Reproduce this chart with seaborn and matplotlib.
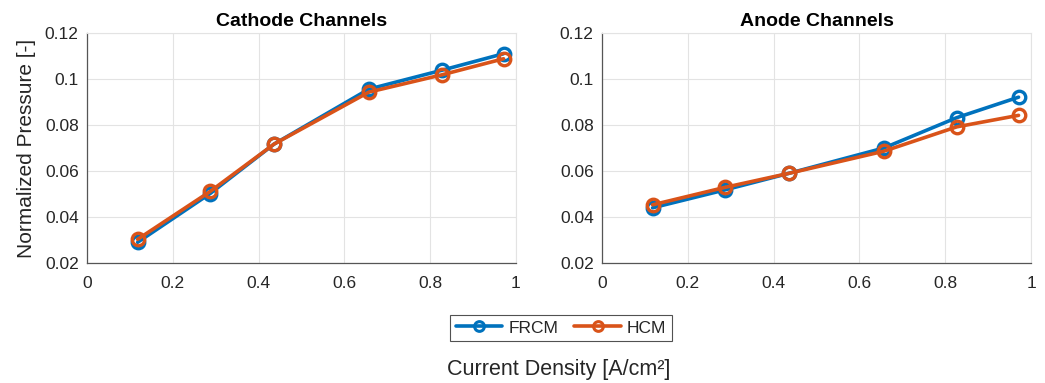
import numpy as np
import pandas as pd
import matplotlib
matplotlib.use("Agg")
import matplotlib.pyplot as plt
import seaborn as sns

current_density = [0.118, 0.287, 0.436, 0.657, 0.827, 0.971]
cathode_frcm = [0.0290, 0.0502, 0.0717, 0.0956, 0.1038, 0.1110]
cathode_hcm = [0.0303, 0.0511, 0.0717, 0.0943, 0.1018, 0.1088]
anode_frcm = [0.0440, 0.0518, 0.0590, 0.0700, 0.0832, 0.0921]
anode_hcm = [0.0453, 0.0529, 0.0590, 0.0686, 0.0792, 0.0842]
models = ["FRCM", "HCM"]
titles = ["Cathode Channels", "Anode Channels"]
yticks = [0.02, 0.04, 0.06, 0.08, 0.1, 0.12]
ytick_labels = ["0.02", "0.04", "0.06", "0.08", "0.1", "0.12"]
xticks = [0, 0.2, 0.4, 0.6, 0.8, 1]
xtick_labels = ["0", "0.2", "0.4", "0.6", "0.8", "1"]
colors = {"FRCM": "#0072BD", "HCM": "#D95319"}

def make_df(frcm, hcm):
    return pd.DataFrame({
        "x": current_density * 2,
        "y": list(frcm) + list(hcm),
        "model": [models[0]] * len(frcm) + [models[1]] * len(hcm),
    })

sns.set_theme(style="whitegrid")
plt.rcParams["font.family"] = ["Liberation Sans", "DejaVu Sans"]

fig = plt.figure(figsize=(10.45, 3.83), dpi=100)
ax1 = fig.add_axes([87/1045, 1-263/383, 429/1045, 230/383])
ax2 = fig.add_axes([602/1045, 1-263/383, 429/1045, 230/383])

dfs = [make_df(cathode_frcm, cathode_hcm), make_df(anode_frcm, anode_hcm)]
for ax, df, title in zip([ax1, ax2], dfs, titles):
    sns.lineplot(data=df, x="x", y="y", hue="model", palette=colors, marker="o",
                 linewidth=2.6, markersize=9, ax=ax, legend=True)
    for ln in ax.lines:
        c = ln.get_color()
        ln.set_markeredgecolor(c)
        ln.set_markerfacecolor("none")
        ln.set_markeredgewidth(2.4)
    ax.set_xlim(0, 1)
    ax.set_ylim(0.02, 0.12)
    ax.set_xticks(xticks)
    ax.set_xticklabels(xtick_labels)
    ax.set_yticks(yticks)
    ax.set_yticklabels(ytick_labels)
    ax.set_title(title, fontsize=14, fontweight="bold", pad=5, color="black")
    ax.set_xlabel("")
    ax.set_ylabel("")
    ax.grid(True, color="#e3e3e3", linewidth=0.8)
    ax.set_facecolor("white")
    for s in ["left", "bottom"]:
        ax.spines[s].set_color("#555555")
        ax.spines[s].set_linewidth(0.9)
    for s in ["top", "right"]:
        ax.spines[s].set_color("#e3e3e3")
        ax.spines[s].set_linewidth(0.8)
    ax.tick_params(axis="both", labelsize=12.5, colors="#555555", direction="in",
                   length=3, width=0.8)
    ax.tick_params(axis="x", pad=9)
    ax.tick_params(axis="y", pad=6)
    ax.tick_params(axis="both", labelcolor="#262626")

handles, labels = ax1.get_legend_handles_labels()
for h in handles:
    h.set_markeredgecolor(h.get_color())
    h.set_markerfacecolor("none")
    h.set_markeredgewidth(2.2)
    h.set_markersize(7)
ax1.get_legend().remove()
ax2.get_legend().remove()

ax1.set_ylabel("Normalized Pressure [-]", fontsize=15, color="#262626", labelpad=6)

leg = fig.legend(handles, labels, loc="center", bbox_to_anchor=(561/1045, 1-328/383),
                 ncol=2, fontsize=12.5, frameon=True, fancybox=False, edgecolor="#262626",
                 handlelength=2.7, columnspacing=0.9, handletextpad=0.35, borderpad=0.3,
                 borderaxespad=0.0)
leg.get_frame().set_linewidth(0.8)

fig.text(559/1045, 1-370/383, "Current Density [A/cm²]", ha="center", va="center",
         fontsize=15.5, color="#262626")

fig.savefig("out.png", dpi=100, facecolor="white")
